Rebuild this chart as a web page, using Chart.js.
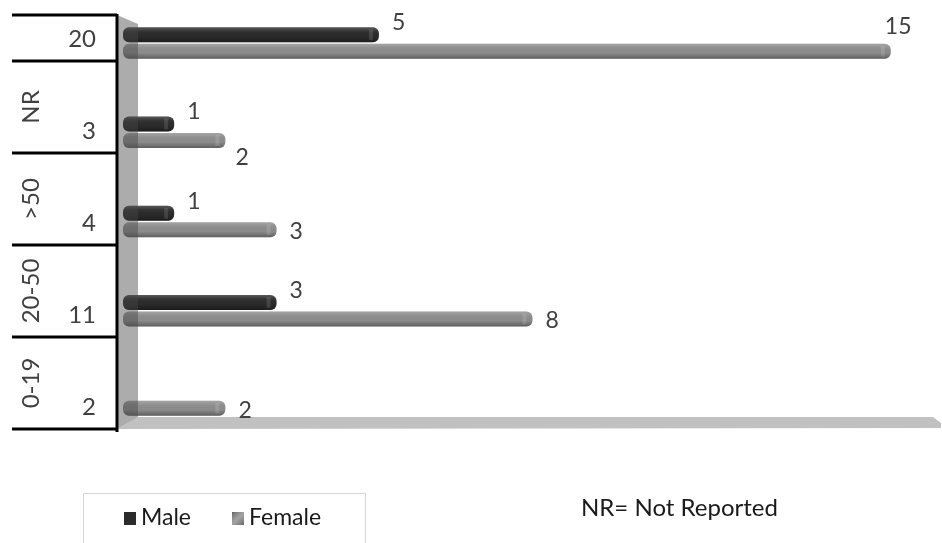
<!DOCTYPE html>
<html lang="en">
<head>
<meta charset="UTF-8">
<title>Cases by age group and sex</title>
<script src="https://cdn.jsdelivr.net/npm/chart.js"></script>
<style>
  html, body { margin: 0; padding: 0; background: #fff; overflow: hidden; }
  #chart { display: block; }
</style>
</head>
<body>
<canvas id="chart" width="942" height="543"></canvas>
<script>
// rows from top to bottom; the top row is the overall total and has no group name
const groups = ['', 'NR', '>50', '20-50', '0-19'];
const totals = [20, 3, 4, 11, 2];
const male = [5, 1, 1, 3, 0];
const female = [15, 2, 3, 8, 2];
const footnote = 'NR= Not Reported';

const FONT = 'Lato, "Open Sans", sans-serif';
const n = groups.length;
const rowOf = i => n - 1 - i;   // top row gets the highest y value

// a few value labels were moved by hand in the original layout
const labelNudge = { 1: { 0: [-19, -27], 1: [-3, 15] } };

function points(vals) {
  return vals.map((v, i) => ({ x: v, y: rowOf(i) }));
}

// floor, back wall and shading give the flat bars a 3D look
const depthPlugin = {
  id: 'depth',
  beforeDatasetsDraw(chart) {
    const { ctx, chartArea: a } = chart;
    ctx.save();
    ctx.fillStyle = '#c1c1c1';
    ctx.beginPath();
    ctx.moveTo(a.left - 6, a.bottom);
    ctx.lineTo(a.left + 15, a.bottom - 12);
    ctx.lineTo(a.right - 9, a.bottom - 12);
    ctx.lineTo(a.right - 1, a.bottom - 6);
    ctx.lineTo(a.right - 1, a.bottom - 1);
    ctx.closePath();
    ctx.fill();
    ctx.restore();
  },
  afterDatasetsDraw(chart) {
    const { ctx, chartArea: a } = chart;
    ctx.save();
    chart.data.datasets.forEach((ds, di) => {
      chart.getDatasetMeta(di).data.forEach(bar => {
        const { x, y, base, height } = bar.getProps(['x', 'y', 'base', 'height'], true);
        if (Math.abs(x - base) < 1) return;
        const top = y - height / 2;
        const g = ctx.createLinearGradient(0, top, 0, top + height);
        g.addColorStop(0, 'rgba(255,255,255,0.22)');
        g.addColorStop(0.25, 'rgba(255,255,255,0.05)');
        g.addColorStop(0.6, 'rgba(0,0,0,0)');
        g.addColorStop(1, 'rgba(0,0,0,0.32)');
        ctx.fillStyle = g;
        ctx.beginPath();
        ctx.roundRect(base, top, x - base, height, 6);
        ctx.fill();
        // rounded cap highlight
        ctx.fillStyle = 'rgba(255,255,255,0.12)';
        ctx.fillRect(x - 10, top + 2, 4, height - 4);
      });
    });
    // translucent side wall over the start of the bars
    ctx.fillStyle = 'rgba(70,70,70,0.45)';
    ctx.beginPath();
    ctx.moveTo(a.left - 6, a.top);
    ctx.lineTo(a.left + 15, a.top + 9);
    ctx.lineTo(a.left + 15, a.bottom - 12);
    ctx.lineTo(a.left - 6, a.bottom);
    ctx.closePath();
    ctx.fill();
    ctx.restore();
  }
};

// value labels next to the bar ends
const valuePlugin = {
  id: 'values',
  afterDraw(chart) {
    const { ctx } = chart;
    ctx.save();
    ctx.font = '23px ' + FONT;
    ctx.fillStyle = '#404040';
    ctx.textBaseline = 'middle';
    chart.data.datasets.forEach((ds, di) => {
      chart.getDatasetMeta(di).data.forEach((bar, i) => {
        const v = ds.data[i].x;
        if (!v) return;
        const { x, y } = bar.getProps(['x', 'y'], true);
        const nd = (labelNudge[di] && labelNudge[di][i]) || [0, 0];
        const dy = di === 0 ? -12 : 2;
        ctx.fillText(String(v), x + 13 + nd[0], y + dy + nd[1]);
      });
    });
    ctx.restore();
  }
};

// category table on the left, legend box and footnote underneath
const tablePlugin = {
  id: 'table',
  afterDraw(chart) {
    const { ctx, chartArea: a } = chart;
    const axisX = a.left - 6;
    const rowH = (a.bottom - a.top) / (n - 0.5);
    ctx.save();
    ctx.strokeStyle = '#000';
    ctx.lineWidth = 3;
    ctx.beginPath();
    ctx.moveTo(axisX, a.top - 1);
    ctx.lineTo(axisX, a.bottom + 3);
    ctx.stroke();

    ctx.fillStyle = '#404040';
    ctx.font = '24px ' + FONT;
    for (let i = 0; i < n; i++) {
      const bottom = a.bottom - (n - 1 - i) * rowH;
      const top = Math.max(a.top, bottom - rowH);
      ctx.beginPath();
      ctx.moveTo(12, bottom);
      ctx.lineTo(axisX, bottom);
      if (i === 0) { ctx.moveTo(12, top); ctx.lineTo(axisX, top); }
      ctx.stroke();

      ctx.textAlign = 'right';
      ctx.textBaseline = 'middle';
      ctx.fillText(String(totals[i]), 96, bottom - 22);

      if (groups[i]) {
        ctx.save();
        ctx.translate(31, (top + bottom) / 2);
        ctx.rotate(-Math.PI / 2);
        ctx.textAlign = 'center';
        ctx.fillText(groups[i], 0, 0);
        ctx.restore();
      }
    }

    // legend
    ctx.lineWidth = 1;
    ctx.strokeStyle = '#d6d6d6';
    ctx.fillStyle = '#fff';
    ctx.fillRect(83, 493, 282, 60);
    ctx.strokeRect(83.5, 493.5, 282, 60);
    ctx.font = '23px ' + FONT;
    ctx.textAlign = 'left';
    ctx.textBaseline = 'middle';
    const legendX = [124, 232];
    chart.data.datasets.forEach((ds, di) => {
      const lx = legendX[di];
      ctx.fillStyle = ds.backgroundColor;
      ctx.fillRect(lx, 512, 12, 13);
      if (di === 1) {
        const g = ctx.createLinearGradient(lx, 512, lx + 12, 525);
        g.addColorStop(0, 'rgba(0,0,0,0.3)');
        g.addColorStop(0.5, 'rgba(255,255,255,0.2)');
        g.addColorStop(1, 'rgba(0,0,0,0.3)');
        ctx.fillStyle = g;
        ctx.fillRect(lx, 512, 12, 13);
      }
      ctx.fillStyle = '#1a1a1a';
      ctx.fillText(ds.label, lx + 17, 518);
    });

    ctx.font = '24px ' + FONT;
    ctx.fillText(footnote, 581, 508);
    ctx.restore();
  }
};

new Chart(document.getElementById('chart'), {
  type: 'bar',
  data: {
    datasets: [
      { label: 'Male', data: points(male), backgroundColor: '#2b2b2b' },
      { label: 'Female', data: points(female), backgroundColor: '#8c8c8c' }
    ]
  },
  options: {
    indexAxis: 'y',
    responsive: false,
    animation: false,
    devicePixelRatio: 1,
    layout: { padding: { left: 123, top: 15, right: 0, bottom: 114 } },
    datasets: {
      bar: {
        categoryPercentage: 0.37,
        barPercentage: 0.9,
        borderRadius: 6,
        borderSkipped: false
      }
    },
    scales: {
      x: { type: 'linear', min: 0, max: 16, display: false },
      y: {
        type: 'linear', min: -0.325, max: 4.314, offset: false, display: false,
        ticks: { stepSize: 1, includeBounds: false }
      }
    },
    plugins: { legend: { display: false }, tooltip: { enabled: false } }
  },
  plugins: [depthPlugin, valuePlugin, tablePlugin]
});
</script>
</body>
</html>
